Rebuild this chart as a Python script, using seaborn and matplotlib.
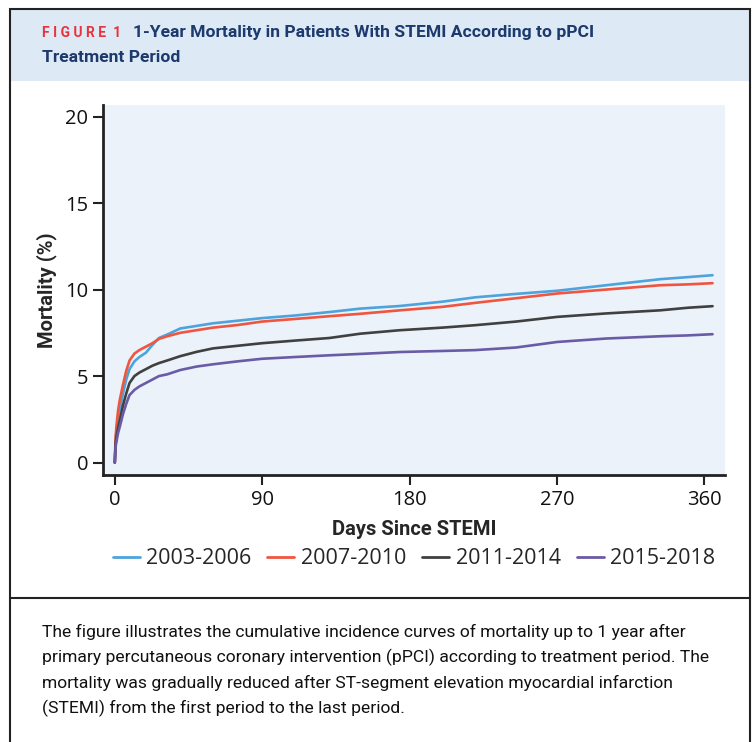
import pandas as pd
import seaborn as sns
import matplotlib.pyplot as plt
from matplotlib.patches import Rectangle

# values
days = [0, 0.5, 1, 2, 3, 5, 7, 9, 12, 15, 19, 23, 27, 32, 40, 50, 60, 75, 90,
        110, 131, 150, 174, 200, 220, 245, 270, 300, 333, 350, 365]
mort_2003_2006 = [0, 1.2, 1.7, 2.5, 3.0, 4.0, 4.8, 5.4, 5.85, 6.1, 6.35, 6.8, 7.2, 7.4, 7.75,
                  7.9, 8.05, 8.2, 8.35, 8.5, 8.7, 8.9, 9.05, 9.3, 9.55, 9.75, 9.93,
                  10.25, 10.6, 10.72, 10.83]
mort_2007_2010 = [0, 1.5, 2.1, 3.0, 3.6, 4.5, 5.3, 5.9, 6.3, 6.5, 6.7, 6.9, 7.15, 7.3, 7.5,
                  7.65, 7.8, 7.95, 8.15, 8.3, 8.46, 8.6, 8.8, 9.0, 9.23, 9.5, 9.77,
                  10.0, 10.25, 10.3, 10.37]
mort_2011_2014 = [0, 1.1, 1.5, 2.0, 2.4, 3.3, 4.0, 4.6, 5.0, 5.2, 5.4, 5.6, 5.75, 5.9, 6.15,
                  6.4, 6.6, 6.75, 6.9, 7.05, 7.2, 7.45, 7.65, 7.8, 7.94, 8.15, 8.42,
                  8.62, 8.8, 8.95, 9.04]
mort_2015_2018 = [0, 0.9, 1.2, 1.7, 2.05, 2.8, 3.4, 3.9, 4.2, 4.4, 4.6, 4.8, 5.0, 5.1, 5.35,
                  5.55, 5.68, 5.85, 6.0, 6.1, 6.2, 6.28, 6.39, 6.45, 6.5, 6.65, 6.97,
                  7.17, 7.3, 7.35, 7.42]
periods = ["2003-2006", "2007-2010", "2011-2014", "2015-2018"]
colors = ["#4fa3dc", "#f0553f", "#404040", "#6a5ba6"]

series = [mort_2003_2006, mort_2007_2010, mort_2011_2014, mort_2015_2018]
df = pd.concat([pd.DataFrame({"day": days, "mortality": s, "period": p})
                for s, p in zip(series, periods)], ignore_index=True)

sns.set_style("ticks")
plt.rcParams['font.family'] = ['Open Sans', 'DejaVu Sans']
narrow = ['Roboto', 'DejaVu Sans']

fig = plt.figure(figsize=(7.55, 7.42), dpi=100)
W, H = 755, 742

def fx(x):
    return x / W

def fy(y):
    return 1 - y / H

# outer frame, header band and caption separator
fig.patches.append(Rectangle((fx(10), fy(81)), fx(740), 72 / H, transform=fig.transFigure,
                             facecolor="#dde9f5", edgecolor="none", zorder=0))
fig.patches.append(Rectangle((fx(10), fy(760)), fx(740), 751 / H, transform=fig.transFigure,
                             facecolor="none", edgecolor="#222222", lw=1.5, zorder=1))
fig.add_artist(plt.Line2D([fx(10), fx(750)], [fy(598), fy(598)], transform=fig.transFigure,
                          color="#222222", lw=1.5))

fig.text(fx(42), fy(33), "F I G U R E  1", color="#e8323c", fontsize=10, fontweight="bold",
         family=narrow, va="center")
fig.text(fx(133), fy(33), "1-Year Mortality in Patients With STEMI According to pPCI",
         color="#1c3a6c", fontsize=12.6, fontweight="bold", family=narrow, va="center")
fig.text(fx(42), fy(58), "Treatment Period", color="#1c3a6c", fontsize=12.6,
         fontweight="bold", family=narrow, va="center")

caption = ["The figure illustrates the cumulative incidence curves of mortality up to 1 year after",
           "primary percutaneous coronary intervention (pPCI) according to treatment period. The",
           "mortality was gradually reduced after ST-segment elevation myocardial infarction",
           "(STEMI) from the first period to the last period."]
for i, line in enumerate(caption):
    fig.text(fx(42), fy(632 + 25.3 * i), line, fontsize=12.6, family=narrow,
             color="#111111", va="center")

ax = fig.add_axes([fx(103), fy(475), fx(725 - 103), (475 - 105) / H])
ax.set_facecolor("#ebf2fa")
sns.lineplot(data=df, x="day", y="mortality", hue="period", palette=colors,
             estimator=None, linewidth=1.9, ax=ax, legend=False)

ax.set_xlim(-7.2, 372.6)
ax.set_ylim(-0.72, 20.67)
ax.set_xticks([0, 90, 180, 270, 360])
ax.set_yticks([0, 5, 10, 15, 20])
sns.despine(ax=ax)
for sp in ["left", "bottom"]:
    ax.spines[sp].set_linewidth(2)
    ax.spines[sp].set_color("#222222")
ax.tick_params(length=7, width=1.5, colors="#222222", labelsize=14.5, labelcolor="#111111")
ax.tick_params(axis="x", pad=4)
ax.set_xlabel("Days Since STEMI", fontsize=14.5, fontweight="bold", family=narrow, labelpad=7)
ax.set_ylabel("Mortality (%)", fontsize=14.5, fontweight="bold", family=narrow, labelpad=6)

handles = [plt.Line2D([], [], color=c, lw=2) for c in colors]
fig.legend(handles, periods, loc="center", bbox_to_anchor=(fx(414), fy(559)), ncol=4,
           frameon=False, fontsize=15.5, handlelength=1.25, handletextpad=0.3,
           columnspacing=0.75)

fig.savefig("out.png", dpi=100)
